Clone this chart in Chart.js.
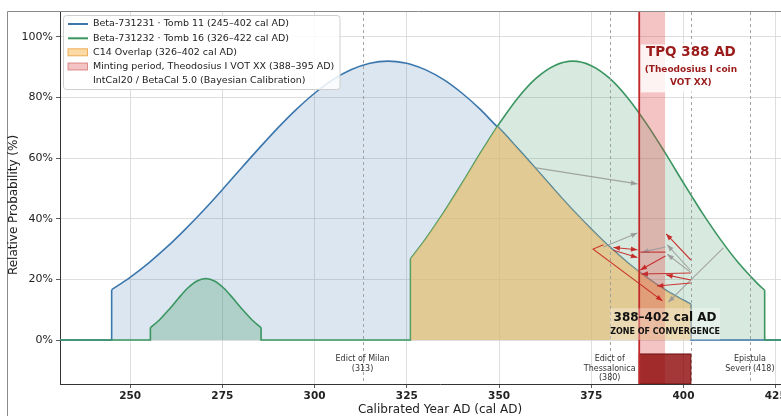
<!DOCTYPE html>
<html lang="en">
<head>
<meta charset="utf-8">
<title>Calibrated radiocarbon dates – Tomb 11 / Tomb 16</title>
<script src="https://cdn.jsdelivr.net/npm/chart.js@4.4.1/dist/chart.umd.min.js"></script>
<style>
  html, body { margin: 0; padding: 0; background: #fff; overflow: hidden; }
  canvas { display: block; }
</style>
</head>
<body>
<canvas id="calChart" width="830" height="416"></canvas>
<script>
// axis ranges and ticks
const xRange = [231, 437];
const yRange = [-14.5, 108.2];
const xTickValues = [250, 275, 300, 325, 350, 375, 400, 425];
const yTickValues = [0, 20, 40, 60, 80, 100];

// Beta-731231 · Tomb 11 (245–402 cal AD)
const blueYears  = [245, 250, 255, 260, 265, 270, 275, 280, 285, 290, 295, 300, 305, 310, 315, 320, 325, 326,
                    330, 335, 340, 345, 349.5, 350, 355, 360, 365, 370, 375, 380, 385, 390, 395, 400, 402];
const blueValues = [16.6, 20.7, 25.4, 30.7, 36.6, 42.9, 49.6, 56.5, 63.3, 69.9, 76.0, 81.4, 85.9, 89.2, 91.3, 92.0, 91.3, 91.0,
                    89.2, 85.9, 81.4, 76.0, 70.4, 69.9, 63.3, 56.5, 49.6, 42.9, 36.6, 30.7, 25.4, 20.7, 16.6, 13.1, 11.8];

// Beta-731232 · Tomb 16 (326–422 cal AD), main peak
const greenYears  = [326, 330, 335, 340, 345, 349.5, 350, 355, 360, 365, 370, 375, 380, 385, 390, 395, 400, 402,
                     405, 410, 415, 420, 422];
const greenValues = [26.8, 33.2, 42.1, 51.8, 61.8, 70.4, 71.3, 79.7, 86.3, 90.5, 92.0, 90.5, 86.3, 79.7, 71.3, 61.8, 51.8, 47.9,
                     42.1, 33.2, 25.3, 18.7, 16.4];

// Beta-731232, small early mode
const bumpYears  = [255.5, 258, 260.5, 263, 265.5, 268, 270.5, 273, 275.5, 278, 280.5, 283, 285.5];
const bumpValues = [4.1, 6.7, 10.0, 13.6, 17.0, 19.4, 20.3, 19.4, 17.0, 13.6, 10.0, 6.7, 4.1];

// periods and events
const overlapStart = 326, overlapEnd = 402;
const mintStart = 388, mintEnd = 395;
const convergenceBoxTop = -4.6;
const dashedYears = [313, 380, 402, 418];
const eventYears = [313, 380, 418];
const eventLabels = [['Edict of Milan', '(313)'], ['Edict of', 'Thessalonica', '(380)'], ['Epistula', 'Severi (418)']];

const legendLabels = [
  'Beta-731231 · Tomb 11 (245–402 cal AD)',
  'Beta-731232 · Tomb 16 (326–422 cal AD)',
  'C14 Overlap (326–402 cal AD)',
  'Minting period, Theodosius I VOT XX (388–395 AD)',
  'IntCal20 / BetaCal 5.0 (Bayesian Calibration)'
];

// annotation arrows, in (year, %)
const grayArrows = [
  [[360, 56.8], [387.5, 51.5]],
  [[378.3, 30.7], [387.5, 35.3]],
  [[395.1, 30.7], [388.8, 29.0]],
  [[401.8, 23.1], [395.6, 31.4]],
  [[401.8, 22.5], [395.6, 28.3]],
  [[410.8, 30.4], [395.9, 12.5]]
];
const redArrows = [
  { path: [[381, 30.5], [387.5, 29.8]], both: true },
  { path: [[381, 29.6], [387.5, 27.2]] },
  { path: [[378.3, 31.4], [375.5, 30.0], [394.3, 12.9]] },
  { path: [[388.3, 29.0], [395.1, 29.0]], noHead: true },
  { path: [[402, 26.4], [395.3, 35.0]] },
  { path: [[395.1, 27.7], [388.3, 23.1]] },
  { path: [[402, 22.1], [388.6, 21.8]] },
  { path: [[402, 19.8], [395.3, 21.5]] },
  { path: [[402, 18.8], [392.8, 17.8]] }
];

const blueLine = '#3b77ad';
const greenLine = '#3a9660';
const overlapColor = 'rgba(250,195,110,0.62)';
const mintColor = 'rgba(220,60,60,0.3)';
const fontFamily = 'DejaVu Sans';

function toPoints(xs, ys) {
  return xs.map(function(x, i) { return { x: x, y: ys[i] }; });
}

const overlapYears = blueYears.filter(function(yr) { return yr >= overlapStart && yr <= overlapEnd; });
const overlapValues = overlapYears.map(function(yr) {
  return Math.min(blueValues[blueYears.indexOf(yr)], greenValues[greenYears.indexOf(yr)]);
});

// vertical jumps and zero lines around each curve
const blueLast = blueYears.length - 1;
const blueEdges = [
  { x: xRange[0], y: 0 }, { x: blueYears[0], y: 0 }, { x: blueYears[0], y: blueValues[0] },
  { x: 300, y: null },
  { x: blueYears[blueLast], y: blueValues[blueLast] }, { x: blueYears[blueLast], y: 0 }, { x: xRange[1], y: 0 }
];
const bumpLast = bumpYears.length - 1;
const greenLast = greenYears.length - 1;
const greenEdges = [
  { x: xRange[0], y: 0 }, { x: bumpYears[0], y: 0 }, { x: bumpYears[0], y: bumpValues[0] },
  { x: 270, y: null },
  { x: bumpYears[bumpLast], y: bumpValues[bumpLast] }, { x: bumpYears[bumpLast], y: 0 },
  { x: greenYears[0], y: 0 }, { x: greenYears[0], y: greenValues[0] },
  { x: 370, y: null },
  { x: greenYears[greenLast], y: greenValues[greenLast] }, { x: greenYears[greenLast], y: 0 }, { x: xRange[1], y: 0 }
];

function arrowHead(ctx, from, to) {
  const ang = Math.atan2(to[1] - from[1], to[0] - from[0]);
  const L = 6.5, W = 2.6;
  ctx.beginPath();
  ctx.moveTo(to[0], to[1]);
  ctx.lineTo(to[0] - L * Math.cos(ang) + W * Math.sin(ang), to[1] - L * Math.sin(ang) - W * Math.cos(ang));
  ctx.lineTo(to[0] - L * Math.cos(ang) - W * Math.sin(ang), to[1] - L * Math.sin(ang) + W * Math.cos(ang));
  ctx.closePath();
  ctx.fill();
}

function drawArrow(ctx, pts, color, opts) {
  opts = opts || {};
  ctx.strokeStyle = color;
  ctx.fillStyle = color;
  ctx.lineWidth = 1.1;
  ctx.beginPath();
  pts.forEach(function(p, i) { if (i) ctx.lineTo(p[0], p[1]); else ctx.moveTo(p[0], p[1]); });
  ctx.stroke();
  if (opts.noHead) return;
  arrowHead(ctx, pts[pts.length - 2], pts[pts.length - 1]);
  if (opts.both) arrowHead(ctx, pts[1], pts[0]);
}

const overlayPlugin = {
  id: 'overlay',
  afterDatasetsDraw(chart) {
    const ctx = chart.ctx, a = chart.chartArea;
    const xs = chart.scales.x, ys = chart.scales.y;
    const px = function(v) { return xs.getPixelForValue(v); };
    const py = function(v) { return ys.getPixelForValue(v); };

    ctx.save();
    ctx.beginPath();
    ctx.rect(a.left, a.top, a.right - a.left, a.bottom - a.top);
    ctx.clip();

    // minting period band
    ctx.fillStyle = mintColor;
    ctx.fillRect(px(mintStart), a.top, px(mintEnd) - px(mintStart), a.bottom - a.top);

    // dashed event lines
    ctx.setLineDash([3, 3]);
    ctx.strokeStyle = '#9a9a9a';
    ctx.lineWidth = 0.9;
    dashedYears.forEach(function(yr) {
      const x = Math.round(px(yr)) + 0.5;
      ctx.beginPath(); ctx.moveTo(x, a.top); ctx.lineTo(x, a.bottom); ctx.stroke();
    });
    ctx.setLineDash([]);

    // convergence box under the axis
    const bx0 = px(mintStart), bx1 = px(overlapEnd), by0 = py(convergenceBoxTop);
    ctx.fillStyle = 'rgba(139,0,0,0.78)';
    ctx.fillRect(bx0, by0, bx1 - bx0, a.bottom - by0);
    ctx.strokeStyle = '#6e0f0f';
    ctx.lineWidth = 1;
    ctx.strokeRect(bx0, by0, bx1 - bx0, a.bottom - by0);

    // TPQ line
    ctx.strokeStyle = '#c22a2a';
    ctx.lineWidth = 1.8;
    ctx.beginPath(); ctx.moveTo(px(mintStart), a.top); ctx.lineTo(px(mintStart), a.bottom); ctx.stroke();

    // arrows
    grayArrows.forEach(function(p) {
      drawArrow(ctx, p.map(function(q) { return [px(q[0]), py(q[1])]; }), 'rgba(150,150,150,0.85)');
    });
    redArrows.forEach(function(r) {
      drawArrow(ctx, r.path.map(function(q) { return [px(q[0]), py(q[1])]; }), 'rgba(198,34,34,0.9)', r);
    });

    // TPQ label
    const tx = px(402);
    ctx.fillStyle = 'rgba(255,255,255,0.8)';
    ctx.fillRect(px(mintStart) + 1.5, py(97.5), 100, py(81.7) - py(97.5));
    ctx.fillStyle = '#9b1b1b';
    ctx.textAlign = 'center';
    ctx.textBaseline = 'middle';
    ctx.font = 'bold 13.5px ' + fontFamily;
    ctx.fillText('TPQ 388 AD', tx, py(95));
    ctx.font = 'bold 9px ' + fontFamily;
    ctx.fillText('(Theodosius I coin', tx, py(89.2));
    ctx.fillText('VOT XX)', tx, py(84.8));

    // convergence label
    const cx = px(395);
    ctx.fillStyle = 'rgba(255,255,255,0.3)';
    ctx.fillRect(cx - 55, py(10.5), 110, py(0) - py(10.5));
    ctx.fillStyle = '#111';
    ctx.font = 'bold 12px ' + fontFamily;
    ctx.fillText('388–402 cal AD', cx, py(7.3));
    ctx.font = 'bold 8px ' + fontFamily;
    ctx.fillText('ZONE OF CONVERGENCE', cx, py(2.6));

    // event labels
    ctx.fillStyle = '#333';
    ctx.font = '8px ' + fontFamily;
    eventYears.forEach(function(yr, i) {
      eventLabels[i].forEach(function(line, j) {
        ctx.fillText(line, px(yr), py(-6.3) + j * 9.5);
      });
    });
    ctx.restore();

    // outer frame and top spine
    ctx.save();
    ctx.strokeStyle = '#8a8a8a';
    ctx.lineWidth = 1;
    ctx.beginPath();
    ctx.moveTo(7.5, chart.height); ctx.lineTo(7.5, 11.5); ctx.lineTo(chart.width, 11.5);
    ctx.stroke();

    // axis titles
    ctx.fillStyle = '#222';
    ctx.textAlign = 'center';
    ctx.textBaseline = 'middle';
    ctx.font = '12px ' + fontFamily;
    ctx.fillText('Calibrated Year AD (cal AD)', (a.left + a.right) / 2, 410);
    ctx.translate(14, (a.top + a.bottom) / 2 + 7);
    ctx.rotate(-Math.PI / 2);
    ctx.fillText('Relative Probability (%)', 0, 0);
    ctx.restore();

    // legend
    ctx.save();
    const lx = 63.5, ly = 15.5, lw = 276.5, lh = 74;
    ctx.fillStyle = 'rgba(255,255,255,0.85)';
    ctx.strokeStyle = '#cfcfcf';
    ctx.lineWidth = 1;
    ctx.beginPath();
    ctx.roundRect(lx, ly, lw, lh, 3);
    ctx.fill(); ctx.stroke();
    const rows = [24, 38.3, 52.3, 66.5, 80.3];
    ctx.lineWidth = 2;
    ctx.strokeStyle = blueLine;
    ctx.beginPath(); ctx.moveTo(68, rows[0]); ctx.lineTo(88, rows[0]); ctx.stroke();
    ctx.strokeStyle = greenLine;
    ctx.beginPath(); ctx.moveTo(68, rows[1]); ctx.lineTo(88, rows[1]); ctx.stroke();
    ctx.lineWidth = 1;
    ctx.fillStyle = overlapColor;
    ctx.fillRect(68, rows[2] - 3.5, 19.5, 7);
    ctx.strokeStyle = 'rgba(235,160,60,0.8)';
    ctx.strokeRect(68, rows[2] - 3.5, 19.5, 7);
    ctx.fillStyle = mintColor;
    ctx.fillRect(68, rows[3] - 3.5, 19.5, 7);
    ctx.strokeStyle = 'rgba(200,80,80,0.6)';
    ctx.strokeRect(68, rows[3] - 3.5, 19.5, 7);
    ctx.fillStyle = '#222';
    ctx.font = '9.5px ' + fontFamily;
    ctx.textAlign = 'left';
    ctx.textBaseline = 'middle';
    legendLabels.forEach(function(t, i) { ctx.fillText(t, 93, rows[i]); });
    ctx.restore();
  }
};

Chart.defaults.font.family = fontFamily;

new Chart(document.getElementById('calChart'), {
  type: 'line',
  data: {
    datasets: [
      {
        label: 'C14 Overlap',
        data: toPoints(overlapYears, overlapValues),
        fill: 'origin',
        backgroundColor: overlapColor,
        borderWidth: 0,
        tension: 0,
        order: 1
      },
      {
        label: 'Tomb 16 edges',
        data: greenEdges,
        borderColor: greenLine,
        borderWidth: 1.6,
        fill: false,
        tension: 0,
        order: 3
      },
      {
        label: 'Beta-731232',
        data: toPoints(greenYears, greenValues),
        fill: 'origin',
        backgroundColor: 'rgba(58,150,96,0.2)',
        borderColor: greenLine,
        borderWidth: 1.6,
        cubicInterpolationMode: 'monotone',
        order: 4
      },
      {
        label: 'Beta-731232 early mode',
        data: toPoints(bumpYears, bumpValues),
        fill: 'origin',
        backgroundColor: 'rgba(58,150,96,0.28)',
        borderColor: greenLine,
        borderWidth: 1.6,
        cubicInterpolationMode: 'monotone',
        order: 4
      },
      {
        label: 'Tomb 11 edges',
        data: blueEdges,
        borderColor: blueLine,
        borderWidth: 1.6,
        fill: false,
        tension: 0,
        order: 5
      },
      {
        label: 'Beta-731231',
        data: toPoints(blueYears, blueValues),
        fill: 'origin',
        backgroundColor: 'rgba(59,119,173,0.18)',
        borderColor: blueLine,
        borderWidth: 1.6,
        cubicInterpolationMode: 'monotone',
        order: 6
      }
    ]
  },
  options: {
    responsive: false,
    animation: false,
    events: [],
    layout: { padding: { top: 12, right: 10, left: 0, bottom: 0 } },
    elements: { point: { radius: 0 } },
    plugins: { legend: { display: false }, tooltip: { enabled: false } },
    scales: {
      x: {
        type: 'linear',
        min: xRange[0],
        max: xRange[1],
        afterBuildTicks: function(s) { s.ticks = xTickValues.map(function(v) { return { value: v }; }); },
        afterFit: function(s) { s.height = 32; },
        grid: { color: '#d6d6d6', lineWidth: 0.8, tickLength: 4, tickColor: '#333' },
        border: { display: true, color: '#333', width: 1 },
        ticks: {
          font: { size: 10.5, weight: 'bold' },
          color: '#222',
          padding: 2,
          maxRotation: 0,
          autoSkip: false
        }
      },
      y: {
        type: 'linear',
        min: yRange[0],
        max: yRange[1],
        afterBuildTicks: function(s) { s.ticks = yTickValues.map(function(v) { return { value: v }; }); },
        afterFit: function(s) { s.width = 60; },
        grid: { color: '#d6d6d6', lineWidth: 0.8, tickLength: 4, tickColor: '#333' },
        border: { display: true, color: '#333', width: 1 },
        ticks: {
          font: { size: 11 },
          color: '#222',
          padding: 3,
          callback: function(v) { return v + '%'; }
        }
      }
    }
  },
  plugins: [overlayPlugin]
});
</script>
</body>
</html>
